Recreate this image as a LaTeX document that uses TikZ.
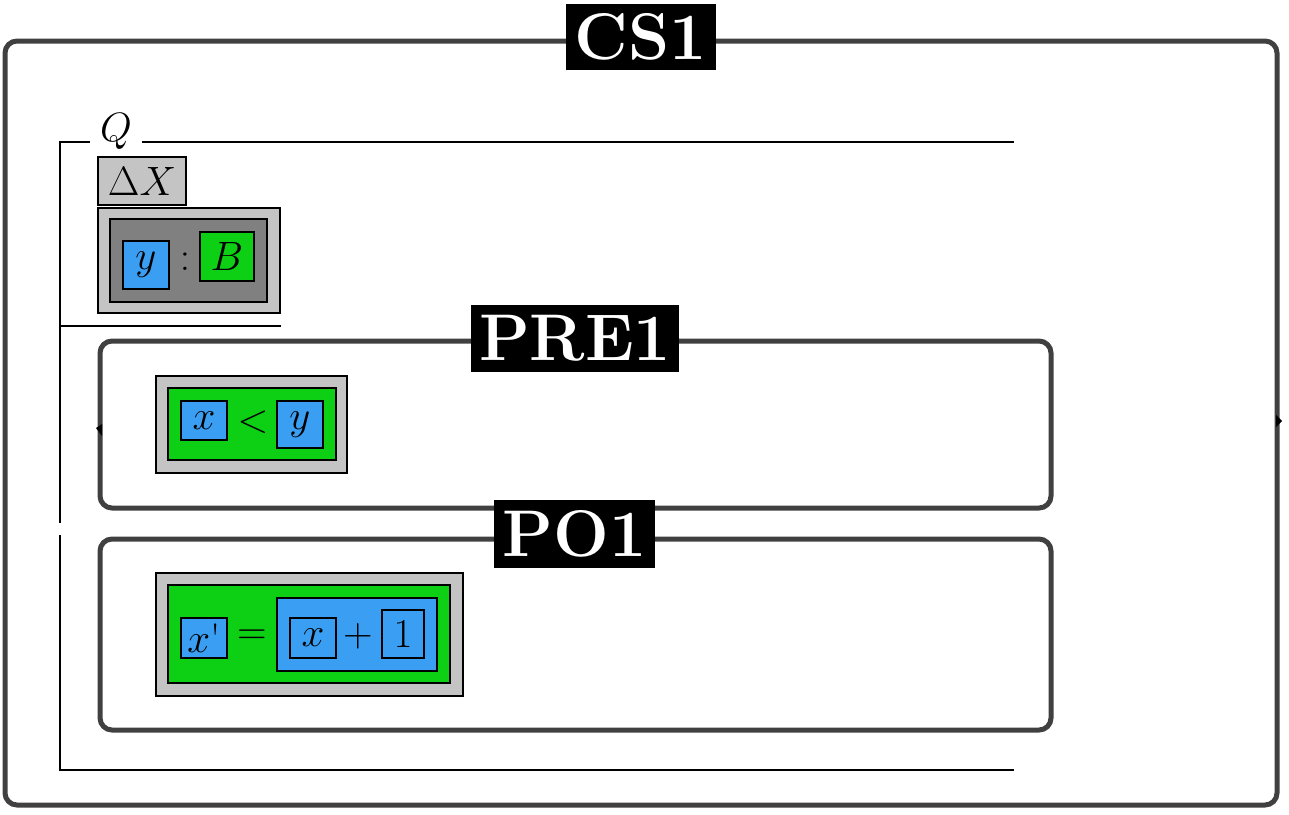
\RequirePackage{fix-cm}
\documentclass[tikz,border=0pt]{standalone}
\definecolor{bordergray}{HTML}{404040}
\definecolor{lgray}{HTML}{C4C4C4}
\definecolor{dgray}{HTML}{808080}
\definecolor{tblue}{HTML}{3A9EF2}
\definecolor{tgreen}{HTML}{0DCF14}
\newcommand\bx[6]{\node[#6, minimum width={(#4-#2)*1pt}, minimum height={(#5-#3)*1pt}] (#1) at ({(#2+#4)/2},{(#3+#5)/2}) {};}
\tikzset{
  frame/.style={draw=bordergray, line width=5pt, rounded corners=12pt, inner sep=0pt},
  tag/.style={fill=black, inner sep=0pt},
  tagtext/.style={text=white, font=\fontsize{66}{70}\selectfont\bfseries, inner sep=0pt},
  lbox/.style={draw=black, line width=1.2pt, fill=lgray, inner sep=0pt},
  dbox/.style={draw=black, line width=1.2pt, fill=dgray, inner sep=0pt},
  bbox/.style={draw=black, line width=1.2pt, fill=tblue, inner sep=0pt},
  gbox/.style={draw=black, line width=1.2pt, fill=tgreen, inner sep=0pt},
  mtext/.style={inner sep=0pt, font=\fontsize{41}{44}\selectfont},
  qline/.style={draw=black, line width=1.2pt},
  tip/.style={fill=black, draw=none}
}
\begin{document}
\begin{tikzpicture}[x=1pt,y=-1pt]
\useasboundingbox (0,0) rectangle (1289,814);
% outer CS1 frame
\bx{cs}{5}{41}{1277}{805}{frame}
% Q frame
\node[mtext] (q) at (116,131) {$Q$};
\coordinate (qtl) at (60,142);
\coordinate (qtr) at (1014,142);
\coordinate (qbl) at (60,770);
\coordinate (qbr) at (1014,770);
\coordinate (qg1) at (60,523);
\coordinate (qg2) at (60,535);
\coordinate (qm) at (60,326);
\coordinate (qmr) at (281,326);
\draw[qline] (q.west |- qtl) ++(-10,0) -- (qtl) -- (qg1);
\draw[qline] (qg2) -- (qbl) -- (qbr);
\draw[qline] (q.east |- qtr) ++(10,0) -- (qtr);
\draw[qline] (qm) -- (qmr);
% Delta X
\bx{dx}{98}{157}{186}{205}{lbox}
\node[mtext] at (dx) {$\Delta X$};
% y : B
\bx{yb}{98}{208}{280}{313}{lbox}
\bx{ybi}{110}{219}{267}{302}{dbox}
\bx{yy}{123}{241}{169}{289}{bbox}
\node[mtext] at (yy) {$y$};
\node[mtext] (colon) at (185,262) {$:$};
\bx{bb}{200}{232}{254}{281}{gbox}
\node[mtext] at (bb) {$B$};
% PRE1
\bx{pre}{100}{341}{1051}{508}{frame}
\bx{xl}{156}{376}{347}{473}{lbox}
\bx{xli}{168}{388}{336}{460}{gbox}
\bx{xx}{181}{401}{227}{440}{bbox}
\node[mtext] at (xx) {$x$};
\node[mtext] (lt) at (253,422) {$<$};
\bx{xy}{277}{401}{323}{448}{bbox}
\node[mtext] at (xy) {$y$};
% PO1
\bx{po}{100}{539}{1051}{730}{frame}
\bx{pe}{156}{573}{463}{696}{lbox}
\bx{pei}{168}{585}{450}{683}{gbox}
\bx{px}{181}{618}{227}{658}{bbox}
\node[mtext] at (px) {$x$\textquotesingle};
\node[mtext] (eq) at (252,637) {$=$};
\bx{ps}{277}{598}{437}{671}{bbox}
\bx{psx}{290}{618}{336}{658}{bbox}
\node[mtext] at (psx) {$x$};
\node[mtext] (plus) at (358,636) {$+$};
\bx{p1}{382}{610}{424}{658}{bbox}
\node[mtext] at (p1) {$1$};
% small tips
\fill[tip] (1276,415) -- (1282,421) -- (1276,427) -- cycle;
\fill[tip] (102,424) -- (96,428) -- (102,436) -- cycle;
% tags
\bx{cstag}{566}{4}{716}{70}{tag}
\node[tagtext] at (cstag) {CS1};
\bx{pretag}{471}{305}{679}{372}{tag}
\node[tagtext] at (pretag) {PRE1};
\bx{potag}{494}{500}{655}{568}{tag}
\node[tagtext] at (potag) {PO1};
\end{tikzpicture}
\end{document}
